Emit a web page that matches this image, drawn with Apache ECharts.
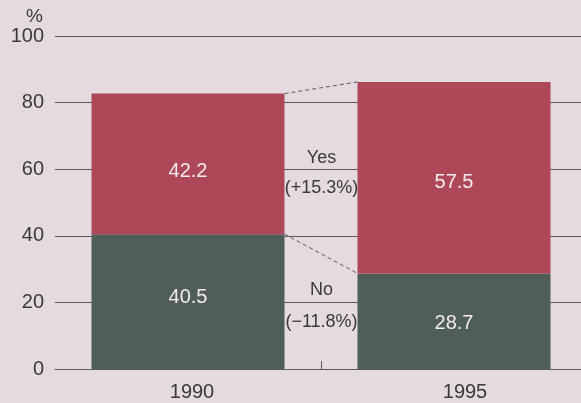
<!DOCTYPE html>
<html>
<head>
<meta charset="utf-8">
<script src="https://cdn.jsdelivr.net/npm/echarts@6/dist/echarts.min.js"></script>
<style>
  html, body { margin: 0; padding: 0; background: #e4dadf; }
  #chart { width: 581px; height: 403px; }
</style>
</head>
<body>
<div id="chart"></div>
<script>
// Survey shares (%) by year
const years = ['1990', '1995'];
const noShare = [40.5, 28.7];
const yesShare = [42.2, 57.5];
const yTicks = [0, 20, 40, 60, 80, 100];

const BAR_W = 193;
const FONT = '"Liberation Sans", Arial, Helvetica, sans-serif';
const INK = '#3a3a3a';
const RULE = '#5a5a5a';
const RED = '#ae4859';
const GREEN = '#505e58';

// vertical nudges for the in-bar value labels
const noLabelShift = [-4, 2];
const yesLabelShift = [8, 5];
// horizontal nudges for the year labels
const yearLabelPad = [8, 22];

function signed(v) {
  const s = Math.abs(v).toFixed(1);
  return '(' + (v >= 0 ? '+' : '\u2212') + s + '%)';
}

const chart = echarts.init(document.getElementById('chart'));

// Connector lines between the two bars, the centre tick and the change annotations
function renderChange(params, api) {
  const halfW = BAR_W / 2;
  const yesTop0 = api.coord([0, noShare[0] + yesShare[0]]);
  const yesTop1 = api.coord([1, noShare[1] + yesShare[1]]);
  const noTop0 = api.coord([0, noShare[0]]);
  const noTop1 = api.coord([1, noShare[1]]);
  const midX = Math.round((yesTop0[0] + yesTop1[0]) / 2) + 0.5;
  const y0 = api.coord([0, 0])[1];
  const y60 = api.coord([0, 60])[1];
  const y20 = api.coord([0, 20])[1];
  const dash = { stroke: RULE, lineWidth: 1, lineDash: [4, 3], fill: null };
  const txt = (text, y) => ({
    type: 'text',
    style: {
      text: text, x: midX, y: y, align: 'center', verticalAlign: 'middle',
      fill: INK, fontSize: 18, fontFamily: FONT
    }
  });
  return {
    type: 'group',
    children: [
      { type: 'line', shape: { x1: yesTop0[0] + halfW, y1: yesTop0[1], x2: yesTop1[0] - halfW, y2: yesTop1[1] }, style: dash },
      { type: 'line', shape: { x1: noTop0[0] + halfW, y1: noTop0[1], x2: noTop1[0] - halfW, y2: noTop1[1] }, style: dash },
      { type: 'line', shape: { x1: midX, y1: y0, x2: midX, y2: y0 - 8 }, style: { stroke: RULE, lineWidth: 1 } },
      txt('Yes', y60 - 11),
      txt(signed(yesShare[1] - yesShare[0]), y60 + 19),
      txt('No', y20 - 12),
      txt(signed(noShare[1] - noShare[0]), y20 + 20)
    ]
  };
}

function barData(values, shifts) {
  return values.map((v, i) => ({ value: v, label: { offset: [0, shifts[i]] } }));
}

const barLabel = {
  show: true,
  position: 'inside',
  color: '#f2eaee',
  fontSize: 20,
  fontFamily: FONT,
  formatter: p => p.value.toFixed(1)
};

const yearRich = {};
years.forEach((y, i) => {
  yearRich['y' + i] = { color: INK, fontSize: 20, fontFamily: FONT, padding: [0, 0, 0, yearLabelPad[i]] };
});

chart.setOption({
  animation: false,
  backgroundColor: '#e4dadf',
  grid: { left: 55, width: 532, top: 36, bottom: 34, outerBoundsMode: 'none', containLabel: false },
  xAxis: {
    type: 'category',
    data: years,
    axisLine: { show: true, lineStyle: { color: RULE, width: 1 } },
    axisTick: { show: false },
    axisLabel: {
      margin: 13,
      formatter: (v, i) => '{y' + i + '|' + v + '}',
      rich: yearRich
    },
    splitLine: { show: false }
  },
  yAxis: {
    type: 'value',
    min: 0,
    max: 100,
    interval: 20,
    name: '%',
    nameLocation: 'end',
    nameGap: 6,
    nameTextStyle: { color: INK, fontSize: 19, fontFamily: FONT, align: 'right', padding: [0, 12, 0, 0] },
    axisLine: { show: false },
    axisTick: { show: false },
    axisLabel: {
      color: INK, fontSize: 20, fontFamily: FONT, margin: 11,
      formatter: v => (yTicks.indexOf(v) >= 0 ? String(v) : '')
    },
    splitLine: { show: true, lineStyle: { color: RULE, width: 1 } }
  },
  series: [
    {
      name: 'No', type: 'bar', stack: 'total', barWidth: BAR_W,
      data: barData(noShare, noLabelShift), itemStyle: { color: GREEN }, label: barLabel, z: 3
    },
    {
      name: 'Yes', type: 'bar', stack: 'total', barWidth: BAR_W,
      data: barData(yesShare, yesLabelShift), itemStyle: { color: RED }, label: barLabel, z: 3
    },
    {
      name: 'Change', type: 'custom', renderItem: renderChange,
      data: [[0, 0]], silent: true, z: 4, clip: false
    }
  ]
});
</script>
</body>
</html>
